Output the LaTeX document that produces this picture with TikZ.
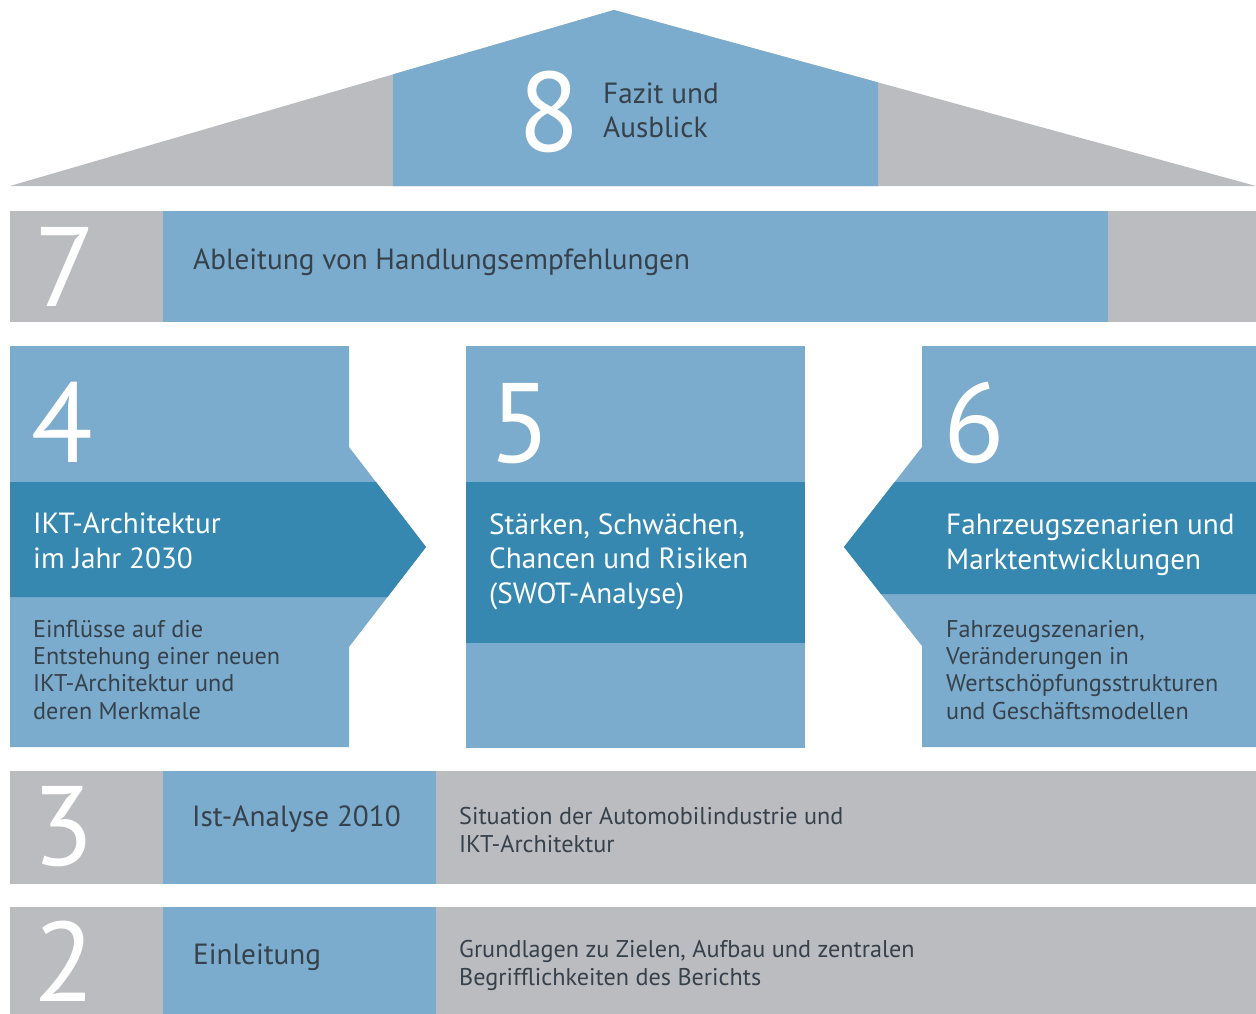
\documentclass[tikz,border=0pt]{standalone}
\usepackage{fontspec}
\setmainfont{PT Sans}
\usepackage{tikz}
\usepackage{color}
\definecolor{housegray}{HTML}{BBBCC0}
\definecolor{lightblue}{HTML}{7BACCD}
\definecolor{darkblue}{HTML}{3688B0}
\definecolor{textgray}{HTML}{37414B}

\begin{document}
\begin{tikzpicture}[x=1pt,y=-1pt,
    number/.style={anchor=base west,inner sep=0pt,text height=80pt,text depth=0pt,text=white,font=\fontsize{113}{113}\selectfont},
    title/.style={anchor=base west,inner sep=0pt,align=left,text=textgray,font=\fontsize{29.2}{34.5}\selectfont},
    band title/.style={title,text=white},
    info/.style={anchor=base west,inner sep=0pt,align=left,text=textgray,font=\fontsize{24.2}{27.3}\selectfont}]
    \useasboundingbox (0,0) rectangle (1256,1014);

    % roof
    \fill[housegray] (10,186) -- (614,10) -- (1256,186) -- cycle;
    \fill[lightblue] (393,186) -- (393,74.4) -- (614,10) -- (878,82.4) -- (878,186) -- cycle;
    \node[number] (n8) at (518,152) {8};
    \node[title] (t8) at (603,138) {Fazit und\\Ausblick};

    % floor 7
    \fill[housegray] (10,211) rectangle (1256,322);
    \fill[lightblue] (163,211) rectangle (1108,322);
    \node[number] (n7) at (34,306) {7};
    \node[title] (t7) at (193,269) {Ableitung von Handlungsempfehlungen};

    % pillars 4, 5, 6
    \fill[lightblue] (10,346) -- (349,346) -- (349,447) -- (426,547) -- (349,647) -- (349,747) -- (10,747) -- cycle;
    \fill[darkblue] (10,482) -- (376,482) -- (426,547) -- (387.5,597) -- (10,597) -- cycle;
    \node[number] (n4) at (31,462) {4};
    \node[band title] (t4) at (33,568) {IKT-Architektur\\im Jahr 2030};
    \node[info] (i4) at (33,719) {Einflüsse auf die\\Entstehung einer neuen\\IKT-Architektur und\\deren Merkmale};

    \fill[lightblue] (466,346) rectangle (805,748);
    \fill[darkblue] (466,482) rectangle (805,643);
    \node[number] (n5) at (489,462) {5};
    \node[band title] (t5) at (489,603) {Stärken, Schwächen,\\Chancen und Risiken\\(SWOT-Analyse)};

    \fill[lightblue] (1256,346) -- (922,346) -- (922,447) -- (844,547) -- (922,646) -- (922,747) -- (1256,747) -- cycle;
    \fill[darkblue] (1256,482) -- (894.7,482) -- (844,547) -- (881,594) -- (1256,594) -- cycle;
    \node[number] (n6) at (943,462) {6};
    \node[band title] (t6) at (946,569) {Fahrzeugszenarien und\\Marktentwicklungen};
    \node[info] (i6) at (946,719) {Fahrzeugszenarien,\\Veränderungen in\\Wertschöpfungsstrukturen\\und Geschäftsmodellen};

    % floor 3
    \fill[housegray] (10,771) rectangle (1256,884);
    \fill[lightblue] (163,771) rectangle (436,884);
    \node[number] (n3) at (32,865) {3};
    \node[title] (t3) at (192,826) {Ist-Analyse 2010};
    \node[info] (i3) at (459,852) {Situation der Automobilindustrie und\\IKT-Architektur};

    % floor 2
    \fill[housegray] (10,907) rectangle (1256,1014);
    \fill[lightblue] (163,907) rectangle (436,1014);
    \node[number] (n2) at (33,1001) {2};
    \node[title] (t2) at (193,964) {Einleitung};
    \node[info] (i2) at (459,985) {Grundlagen zu Zielen, Aufbau und zentralen\\Begrifflichkeiten des Berichts};
\end{tikzpicture}
\end{document}
